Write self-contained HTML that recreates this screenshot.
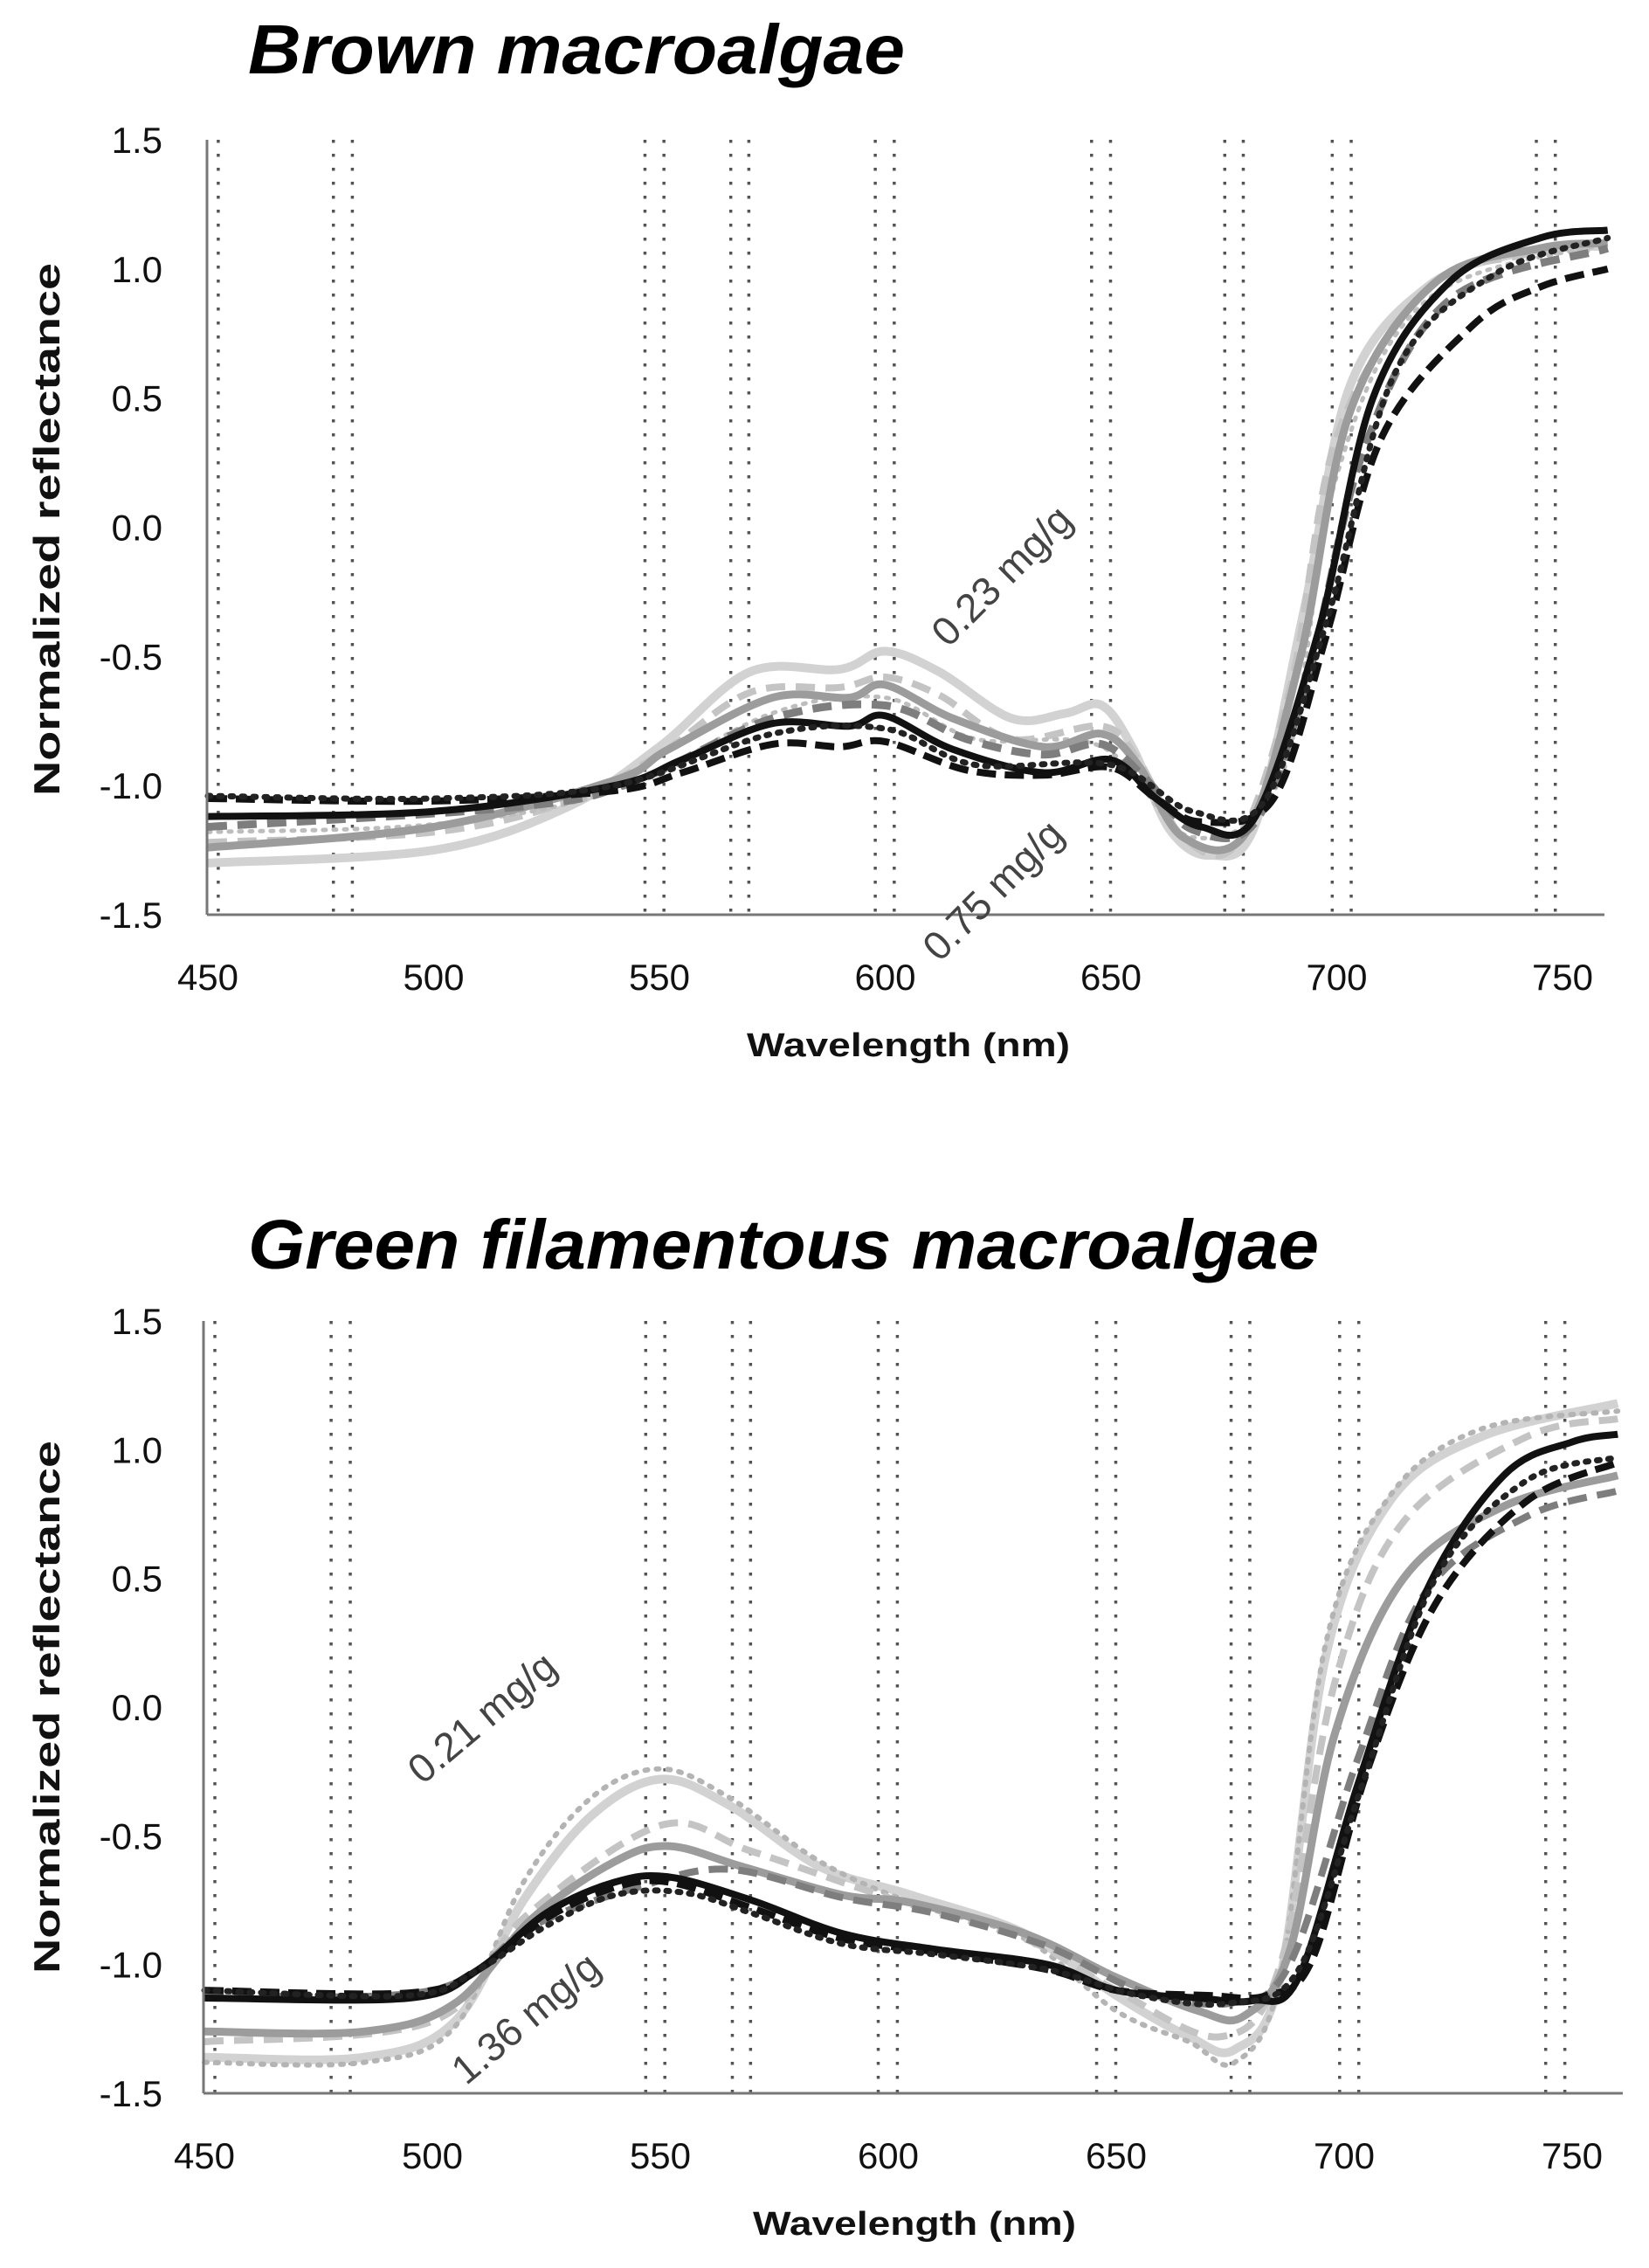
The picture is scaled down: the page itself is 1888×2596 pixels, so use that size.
<!DOCTYPE html>
<html><head><meta charset="utf-8"><style>
html,body{margin:0;padding:0;background:#fff;}
svg{display:block;}
</style></head><body>
<svg id="s" width="1888" height="2596" xmlns="http://www.w3.org/2000/svg" font-family="Liberation Sans, sans-serif">
<rect width="1888" height="2596" fill="#fff"/>
<text x="284" y="84" font-size="80" font-weight="bold" font-style="italic" textLength="752" lengthAdjust="spacingAndGlyphs">Brown macroalgae</text>
<text x="284" y="1452" font-size="80" font-weight="bold" font-style="italic" textLength="1226" lengthAdjust="spacingAndGlyphs">Green filamentous macroalgae</text>
<g id="g"></g>
</svg>
<script>
const NS="http://www.w3.org/2000/svg";
const g=document.getElementById('g');
function el(t,a,txt){const e=document.createElementNS(NS,t);for(const k in a)e.setAttribute(k,a[k]);if(txt!==undefined)e.textContent=txt;g.appendChild(e);return e;}
const vl=[452.3,477.8,482,546.8,551,565.8,569.8,597.8,602,645.7,649.9,675.2,679.3,699,703.2,744.2,748.4];
function chart(C){
 const X=nm=>C.x0+(nm-450)*C.k, Y=v=>C.yb-(v+1.5)*(C.yb-C.yt)/3;
 vl.forEach(n=>el('line',{x1:X(n),x2:X(n),y1:C.yt,y2:C.yb,stroke:'#555','stroke-width':3.5,'stroke-dasharray':'3.5 12.5'}));
 C.series.forEach(s=>{
  const p=s.pts.map(q=>[X(q[0]),Y(q[1])]);
  let d='M'+p[0][0]+','+p[0][1];
  for(let i=0;i<p.length-1;i++){
   const p0=p[Math.max(0,i-1)],p1=p[i],p2=p[i+1],p3=p[Math.min(p.length-1,i+2)];
   const c1=[p1[0]+(p2[0]-p0[0])/6,p1[1]+(p2[1]-p0[1])/6];
   const c2=[p2[0]-(p3[0]-p1[0])/6,p2[1]-(p3[1]-p1[1])/6];
   d+=` C${c1[0].toFixed(1)},${c1[1].toFixed(1)} ${c2[0].toFixed(1)},${c2[1].toFixed(1)} ${p2[0].toFixed(1)},${p2[1].toFixed(1)}`;
  }
  const a={d:d,fill:'none',stroke:s.c,'stroke-width':s.w||8,'stroke-linecap':s.dot?'round':'butt','stroke-linejoin':'round'};
  if(s.dash)a['stroke-dasharray']=s.dash;
  el('path',a);
 });
 el('line',{x1:C.x0-1,x2:C.x0-1,y1:C.yt,y2:C.yb,stroke:'#777','stroke-width':3});
 el('line',{x1:C.x0-1,x2:C.xe,y1:C.yb,y2:C.yb,stroke:'#777','stroke-width':3});
 ['1.5','1.0','0.5','0.0','-0.5','-1.0','-1.5'].forEach((t,i)=>{
  el('text',{x:186,y:C.yt+i*(C.yb-C.yt)/6+15,'font-size':42,'text-anchor':'end',fill:'#111'},t);
 });
 [450,500,550,600,650,700,750].forEach(n=>el('text',{x:X(n),y:C.yb+86,'font-size':42,'text-anchor':'middle',fill:'#111'},String(n)));
 el('text',{x:C.xl,y:C.yb+162,'font-size':38,'font-weight':'bold','text-anchor':'middle',fill:'#111',textLength:370,lengthAdjust:'spacingAndGlyphs'},'Wavelength (nm)');
 el('text',{transform:`translate(68,${C.yc}) rotate(-90)`,'font-size':42,'font-weight':'bold','text-anchor':'middle',fill:'#111',textLength:610,lengthAdjust:'spacingAndGlyphs'},'Normalized reflectance');
 C.ann.forEach(a=>el('text',{transform:`translate(${a[1]},${a[2]}) rotate(${a[3]})`,'font-size':46,'text-anchor':'middle',fill:'#444'},a[0]));
}
const LS='#d2d2d2',LD='#c4c4c4',MS='#9c9c9c',MD='#7e7e7e',BK='#111';
chart({x0:238,k:5.17,xe:1837,yt:160,yb:1047,xl:1040,yc:606,
 ann:[['0.23 mg/g',1158,670,-45],['0.75 mg/g',1148,1030,-45]],
 series:[
 {c:LS,w:10,pts:[[450,-1.3],[500,-1.25],[530,-1.08],[550,-0.85],[570,-0.56],[590,-0.55],[600,-0.48],[612,-0.56],[628,-0.74],[640,-0.72],[648,-0.69],[655,-0.86],[663,-1.17],[672,-1.27],[682,-1.15],[693,-0.3],[703,0.55],[720,0.93],[740,1.06],[760,1.09]]},
 {c:LD,dash:'22 12',pts:[[450,-1.22],[500,-1.18],[530,-1.06],[550,-0.88],[570,-0.64],[590,-0.62],[600,-0.58],[612,-0.65],[628,-0.82],[648,-0.77],[656,-0.9],[666,-1.2],[678,-1.22],[690,-0.6],[700,0.35],[720,0.92],[740,1.05],[760,1.08]]},
 {c:'#bdbdbd',w:5,dash:'3 9',dot:1,pts:[[450,-1.18],[500,-1.15],[540,-1.02],[575,-0.72],[600,-0.66],[620,-0.82],[648,-0.85],[668,-1.2],[688,-0.95],[700,0.2],[720,0.88],[760,1.1]]},
 {c:MS,w:9,pts:[[450,-1.24],[500,-1.16],[540,-0.98],[552,-0.86],[575,-0.66],[592,-0.66],[600,-0.61],[615,-0.74],[635,-0.85],[648,-0.8],[656,-0.92],[666,-1.2],[680,-1.18],[692,-0.5],[703,0.45],[722,0.95],[745,1.08],[760,1.1]]},
 {c:MD,w:9,dash:'22 12',pts:[[450,-1.16],[520,-1.08],[545,-0.98],[575,-0.74],[600,-0.69],[618,-0.82],[635,-0.88],[648,-0.84],[658,-0.98],[668,-1.17],[682,-1.14],[694,-0.55],[706,0.3],[725,0.88],[760,1.08]]},
 {c:BK,w:8,pts:[[450,-1.12],[500,-1.1],[540,-1.0],[555,-0.9],[575,-0.76],[592,-0.77],[600,-0.73],[615,-0.86],[635,-0.95],[650,-0.9],[660,-1.05],[670,-1.16],[682,-1.12],[696,-0.4],[708,0.5],[725,0.95],[745,1.12],[760,1.15]]},
 {c:BK,w:8,dash:'22 10',pts:[[450,-1.05],[500,-1.06],[540,-1.02],[555,-0.95],[575,-0.84],[590,-0.85],[600,-0.83],[618,-0.94],[635,-0.96],[650,-0.93],[660,-1.05],[670,-1.14],[686,-1.05],[698,-0.4],[710,0.35],[730,0.78],[745,0.93],[760,1.0]]},
 {c:'#222',w:7,dash:'3 10',dot:1,pts:[[450,-1.04],[500,-1.05],[540,-1.0],[575,-0.8],[600,-0.78],[620,-0.92],[650,-0.92],[668,-1.1],[684,-1.06],[698,-0.35],[713,0.6],[735,0.98],[760,1.12]]}
 ]});
chart({x0:234,k:5.22,xe:1858,yt:1512,yb:2396,xl:1047,yc:1954,
 ann:[['0.21 mg/g',562,1978,-40],['1.36 mg/g',612,2322,-40]],
 series:[
 {c:LS,w:10,pts:[[450,-1.36],[485,-1.36],[505,-1.22],[520,-0.75],[535,-0.42],[550,-0.28],[565,-0.38],[585,-0.62],[605,-0.73],[630,-0.88],[650,-1.12],[666,-1.28],[676,-1.33],[686,-1.05],[696,0.2],[710,0.8],[730,1.05],[760,1.18]]},
 {c:'#b4b4b4',w:6,dash:'3 10',dot:1,pts:[[450,-1.38],[485,-1.38],[505,-1.24],[520,-0.68],[535,-0.35],[550,-0.24],[565,-0.35],[585,-0.6],[605,-0.76],[630,-0.9],[650,-1.18],[666,-1.3],[676,-1.38],[686,-1.05],[696,0.25],[710,0.82],[730,1.08],[760,1.15]]},
 {c:LD,w:8,dash:'22 12',pts:[[450,-1.3],[500,-1.22],[520,-0.82],[550,-0.46],[570,-0.56],[600,-0.74],[630,-0.9],[650,-1.1],[673,-1.28],[686,-1.0],[698,0.1],[713,0.72],[740,1.05],[760,1.12]]},
 {c:MS,w:9,pts:[[450,-1.26],[485,-1.26],[505,-1.15],[522,-0.82],[540,-0.6],[552,-0.54],[568,-0.62],[590,-0.73],[605,-0.76],[630,-0.88],[650,-1.05],[668,-1.18],[678,-1.2],[688,-0.95],[698,-0.1],[713,0.5],[735,0.78],[760,0.9]]},
 {c:MD,w:8,dash:'22 12',pts:[[450,-1.12],[500,-1.1],[522,-0.85],[545,-0.7],[565,-0.63],[590,-0.74],[610,-0.8],[635,-0.93],[655,-1.1],[675,-1.15],[688,-1.0],[703,-0.2],[718,0.45],[740,0.74],[760,0.84]]},
 {c:BK,w:8,pts:[[450,-1.13],[495,-1.13],[510,-1.02],[525,-0.8],[540,-0.68],[552,-0.66],[570,-0.75],[590,-0.88],[610,-0.94],[635,-1.0],[650,-1.1],[668,-1.13],[680,-1.14],[690,-1.05],[703,-0.3],[718,0.45],[735,0.9],[750,1.03],[760,1.06]]},
 {c:BK,w:8,dash:'22 10',pts:[[450,-1.1],[495,-1.11],[510,-1.02],[525,-0.82],[540,-0.7],[552,-0.68],[570,-0.78],[590,-0.9],[610,-0.95],[635,-1.02],[650,-1.1],[670,-1.12],[683,-1.12],[693,-0.98],[705,-0.25],[720,0.4],[740,0.8],[760,0.95]]},
 {c:'#222',w:7,dash:'3 10',dot:1,pts:[[450,-1.1],[495,-1.12],[510,-1.02],[525,-0.85],[540,-0.73],[555,-0.72],[570,-0.8],[590,-0.92],[610,-0.96],[635,-1.02],[655,-1.12],[675,-1.15],[690,-1.02],[704,-0.3],[720,0.5],[740,0.88],[760,0.97]]}
 ]});
</script>
</body></html>
